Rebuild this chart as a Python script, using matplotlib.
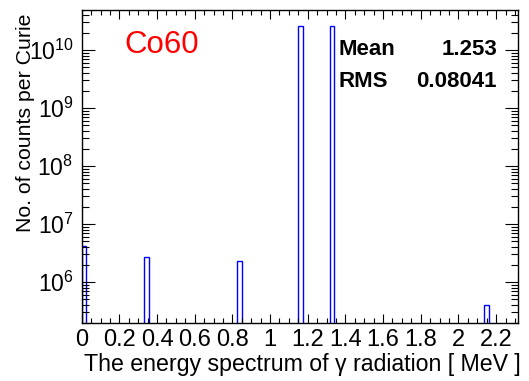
import numpy as np
import matplotlib
matplotlib.use("Agg")
import matplotlib.pyplot as plt
from matplotlib.ticker import MultipleLocator, LogLocator, LogFormatterMathtext, NullFormatter

plt.rcParams['font.family'] = ['Liberation Sans', 'DejaVu Sans']
plt.rcParams['mathtext.fontset'] = 'custom'
plt.rcParams['mathtext.rm'] = 'Liberation Sans'
plt.rcParams['mathtext.it'] = 'Liberation Sans:italic'
plt.rcParams['mathtext.bf'] = 'Liberation Sans:bold'

# histogram bins with content (left edge, right edge in MeV)
bin_lo = [0.000, 0.329, 0.823, 1.150, 1.317, 2.138]
bin_hi = [0.022, 0.356, 0.850, 1.177, 1.341, 2.165]
counts = [4.2e6, 2.73e6, 2.3e6, 2.63e10, 2.63e10, 4.0e5]

mean_val = "1.253"
rms_val = "0.08041"

fig = plt.figure(figsize=(5.29, 3.81), dpi=100)
ax = fig.add_axes([0.1544, 0.1522, 0.9798 - 0.1544, 0.9738 - 0.1522])

lo = np.array(bin_lo)
hi = np.array(bin_hi)
ax.bar(lo, counts, width=hi - lo, align='edge', bottom=1e-3,
       facecolor='none', edgecolor='#0000ff', linewidth=1.0)

ax.set_yscale('log')
ax.set_xlim(0, 2.318)
ax.set_ylim(10**5.293, 10**10.69)

ax.xaxis.set_minor_locator(MultipleLocator(0.05))
ax.set_xticks(np.arange(0, 2.3, 0.2))
ax.set_xticklabels(['0', '0.2', '0.4', '0.6', '0.8', '1', '1.2', '1.4', '1.6', '1.8', '2', '2.2'])
ax.yaxis.set_major_locator(LogLocator(base=10, numticks=20))
ax.yaxis.set_minor_locator(LogLocator(base=10, subs=np.arange(2, 10), numticks=20))
ax.yaxis.set_major_formatter(LogFormatterMathtext())
ax.yaxis.set_minor_formatter(NullFormatter())

ax.tick_params(axis='both', which='both', direction='in', top=True, right=True, width=0.8)
ax.tick_params(axis='x', which='major', length=6.8, labelsize=17, pad=4)
ax.tick_params(axis='x', which='minor', length=3.4)
ax.tick_params(axis='y', which='major', length=9.4, labelsize=16.5, pad=6)
ax.tick_params(axis='y', which='minor', length=4.7)
for s in ax.spines.values():
    s.set_linewidth(1.0)

# x label right-aligned at the axis end, baseline near the bottom edge
ax.set_xlabel('The energy spectrum of γ radiation [ MeV ]', fontsize=16.7, loc='right')
ax.xaxis.set_label_coords(1.005, (10 / 381 - 0.1522) / 0.8216)
ax.xaxis.label.set_va('baseline')
ax.set_ylabel('No. of counts per Curie', fontsize=15.3, loc='top')
ax.yaxis.set_label_coords((35 - 81.7) / 436.6, 0.99)

ax.text(124, 381 - 53, 'Co60', color='red', fontsize=22.5, transform=None)

fig.text(339 / 529, 1 - 55 / 381, 'Mean', fontsize=16, fontweight='bold')
fig.text(497 / 529, 1 - 55 / 381, mean_val, fontsize=16, fontweight='bold', ha='right')
fig.text(339 / 529, 1 - 87 / 381, 'RMS', fontsize=16, fontweight='bold')
fig.text(497 / 529, 1 - 87 / 381, rms_val, fontsize=16, fontweight='bold', ha='right')

fig.savefig('out.png', dpi=100)
